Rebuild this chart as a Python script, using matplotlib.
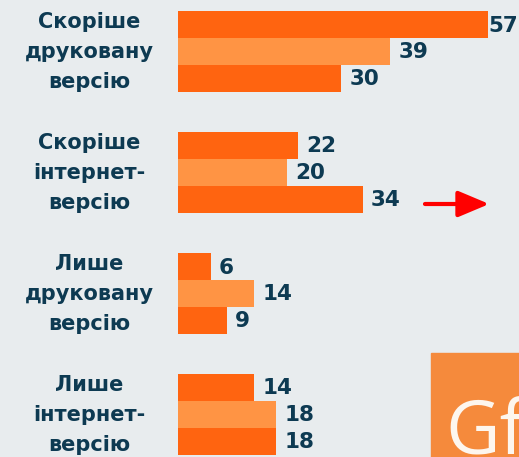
import numpy as np
import matplotlib.pyplot as plt
from matplotlib.patches import Rectangle

categories = ["Скоріше\nдруковану\nверсію", "Скоріше\nінтернет-\nверсію",
              "Лише\nдруковану\nверсію", "Лише\nінтернет-\nверсію"]
wave1 = [57, 22, 6, 14]
wave2 = [39, 20, 14, 18]
wave3 = [30, 34, 9, 18]

bg = "#e8ecee"
dark_orange = "#ff6410"
light_orange = "#ff9444"
text_col = "#0d3a52"

fig = plt.figure(figsize=(5.19, 4.57), dpi=100, facecolor=bg)
ax = fig.add_axes([0, 0, 1, 1])
ax.set_facecolor(bg)

# one unit ~ 5.44 px, zero line at x=178 px
ax.set_xlim(-178 / 5.44, (519 - 178) / 5.44)
ax.set_ylim(457, 0)
ax.axis("off")

group_step = 121
bar_step = 26.8
bar_h = 27
first = 24.5
xmax = (519 - 178) / 5.44

series = [(wave1, dark_orange), (wave2, light_orange), (wave3, dark_orange)]
for j, (vals, col) in enumerate(series):
    y = first + np.arange(len(categories)) * group_step + j * bar_step
    ax.barh(y, vals, height=bar_h, color=col, edgecolor="none")
    for yy, v in zip(y, vals):
        x = v + 1.5
        if x + 6 > xmax:
            x = v + 0.1
        ax.text(x, yy + 1, str(v), ha="left", va="center", fontsize=15.5,
                fontweight="bold", color=text_col)

for i, cat in enumerate(categories):
    yc = first + i * group_step + bar_step + 1
    ax.text(-16.3, yc, cat, ha="center", va="center", fontsize=15,
            fontweight="bold", color=text_col, linespacing=1.62)

# red arrow next to the internet-version group
ax.annotate("", xy=(57.2, 204), xytext=(45.4, 204),
            arrowprops=dict(arrowstyle="-|>,head_length=1.9,head_width=0.8",
                            color="#ff0000", lw=3, shrinkA=0, shrinkB=0))

# logo block in the corner
fig.patches.append(Rectangle((431 / 519, 0), 1, (457 - 353) / 457,
                             transform=fig.transFigure, color="#f58a3c",
                             zorder=0))
fig.text(445 / 519, 4 / 457, "Gf", fontsize=54, color="#fdf6ee",
         ha="left", va="baseline", family="Open Sans")

fig.savefig("out.png", dpi=100, facecolor=bg)
